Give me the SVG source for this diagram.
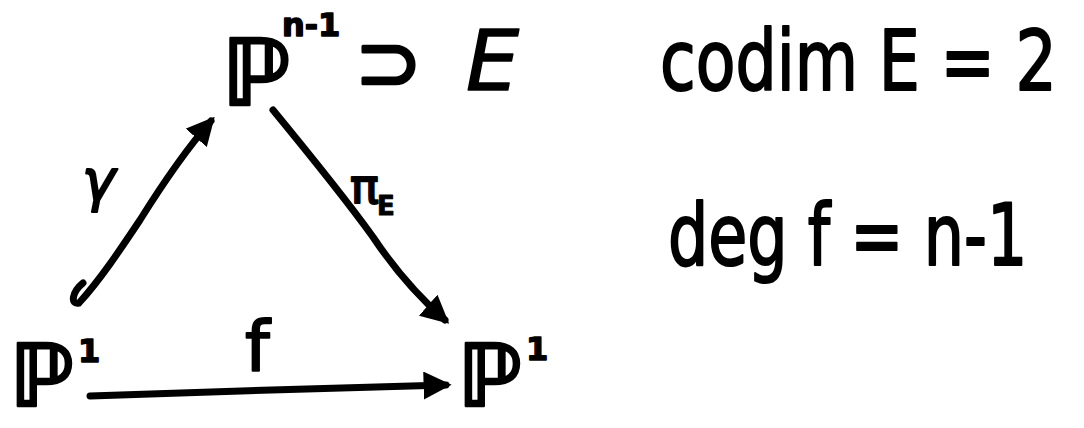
<svg xmlns="http://www.w3.org/2000/svg" width="1084" height="428" viewBox="0 0 1084 428">
<style>
.t{font-family:"DejaVu Sans","Liberation Sans",sans-serif;fill:#000;stroke:#000;stroke-linejoin:round}
.c{fill:none;stroke:#000;stroke-width:7;stroke-linecap:round}
</style>
<defs>
<marker id="ah" viewBox="0 0 10 10" refX="8" refY="5" markerWidth="4" markerHeight="4" orient="auto" markerUnits="strokeWidth">
<path d="M0,0 L10,5 L0,10 z" fill="#000"/>
</marker>
</defs>
<rect width="1084" height="428" fill="#fff"/>
<g id="top">
<text class="t" x="222" y="105" font-size="92" font-weight="bold" stroke-width="2.5">ℙ</text>
<text class="t" x="282" y="36" font-size="32" font-weight="bold" stroke-width="1.5">n-1</text>
<text class="t" x="355" y="90" font-size="80" stroke-width="3">⊃</text>
<text class="t" x="466" y="90" font-size="84" font-style="italic" stroke-width="1.5">E</text>
</g>
<g id="codim">
<text class="t" transform="translate(660,90) scale(1,1.29)" x="0" y="0" font-size="65" stroke-width="1.6">codim E = 2</text>
</g>
<g id="deg">
<text class="t" transform="translate(668,265) scale(1,1.35)" x="0" y="0" font-size="63.5" stroke-width="1.6">deg f = n-1</text>
</g>
<g id="p1left">
<text class="t" x="10" y="406" font-size="86" font-weight="bold" stroke-width="2.5">ℙ</text>
<text class="t" x="78" y="362" font-size="32" font-weight="bold" stroke-width="1.5">1</text>
</g>
<g id="p1right">
<text class="t" x="458" y="406" font-size="86" font-weight="bold" stroke-width="2.5">ℙ</text>
<text class="t" x="526" y="360" font-size="32" font-weight="bold" stroke-width="1.5">1</text>
</g>
<g id="connectors">
<path class="c" d="M83,283 C72,292 70,305 79,303 C100,280 120,250 140,220 C165,180 190,145 211,121" marker-end="url(#ah)"/>
<path class="c" d="M273,110 C310,155 345,198 373,237 C395,270 420,298 445,320" marker-end="url(#ah)"/>
<path class="c" d="M90,396 C200,392 330,388 446,385" marker-end="url(#ah)"/>
<text class="t" x="245" y="371" font-size="70" stroke-width="2">f</text>
<text class="t" x="82" y="200" font-size="56" font-style="italic" stroke-width="2">γ</text>
<text class="t" x="350" y="203" font-size="48" stroke-width="2">π</text>
<text class="t" x="377" y="215" font-size="26" font-weight="bold" stroke-width="1">E</text>
</g>
</svg>
